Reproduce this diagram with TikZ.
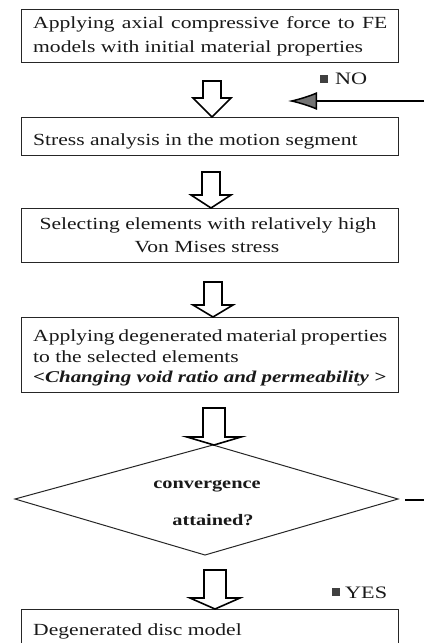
\documentclass[tikz,border=0pt]{standalone}
\usepackage{fontspec}
\setmainfont{Liberation Serif}[FakeStretch=1.27]
\usetikzlibrary{arrows.meta}
\newcommand{\hollowarrow}[6]{%
  \draw[blockarr] ({#1-#5},#2) -- ({#1+#5},#2) -- ({#1+#5},#3) -- ({#1+#6},#3)
    -- (#1,#4) -- ({#1-#6},#3) -- ({#1-#5},#3) -- cycle;}
\tikzset{
  stepbox/.style={draw=black!85, line width=1pt, rectangle, inner sep=0pt,
    minimum width=377pt, anchor=north west},
  line/.style={anchor=base west, inner sep=0pt, font=\fontsize{17}{20}\selectfont, text=black!90},
  cline/.style={anchor=base, inner sep=0pt, font=\fontsize{17}{20}\selectfont, text=black!90},
  blockarr/.style={draw=black, line width=1.6pt, fill=white, line join=miter},
  lab/.style={anchor=base west, inner sep=0pt, font=\fontsize{17.5}{20}\selectfont, text=black!90},
  sq/.style={fill=black!75, draw=none, minimum size=8pt, inner sep=0pt},
  dtext/.style={anchor=base, inner sep=0pt, font=\fontsize{16}{18}\bfseries\selectfont, text=black!90},
}
\begin{document}
\begin{tikzpicture}[x=1pt,y=-1pt]
\useasboundingbox (0,0) rectangle (424,643);
\clip (0,0) rectangle (424,643);
% boxes
\node[stepbox, minimum height=53pt] (b1) at (21,9) {};
\node[stepbox, minimum height=38pt] (b2) at (21,117) {};
\node[stepbox, minimum height=54pt] (b3) at (21,208) {};
\node[stepbox, minimum height=75pt] (b4) at (21,317) {};
\node[stepbox, minimum height=60pt] (b5) at (21,609) {};
% texts
\node[line] (t11) at (33,28) {\makebox[354pt][s]{Applying axial compressive force to FE}};
\node[line] (t12) at (33,52) {models with initial material properties};
\node[line] (t2) at (33,145) {Stress analysis in the motion segment};
\node[cline] (t31) at (208,229) {Selecting elements with relatively high};
\node[cline] (t32) at (207,252) {Von Mises stress};
\node[line] (t41) at (33,341) {\makebox[354pt][s]{Applying degenerated material properties}};
\node[line] (t42) at (33,362) {to the selected elements};
\node[line, font=\fontsize{16.5}{20}\selectfont] (t43) at (33,382) {\bfseries\itshape <Changing void ratio and permeability >};
\node[line] (t5) at (33,635) {Degenerated disc model};
% diamond
\coordinate (dT) at (213,445);
\coordinate (dR) at (398,499);
\coordinate (dB) at (205,555);
\coordinate (dL) at (15,499);
\draw[draw=black!85, line width=1pt, line join=miter] (dT) -- (dR) -- (dB) -- (dL) -- cycle;
\node[dtext] (c1) at (207,488) {convergence};
\node[dtext] (c2) at (213,525) {attained?};
% hollow arrows
\hollowarrow{212}{81}{98}{117}{9}{19}
\hollowarrow{211}{172}{195}{208}{9}{20}
\hollowarrow{213}{282}{305}{317}{9}{20}
\hollowarrow{214}{408}{437}{445}{11}{27}
\hollowarrow{215}{570}{598}{609}{11}{25}
% feedback stubs
\coordinate (fbR) at (424,101);
\coordinate (fbL) at (288,101);
\draw[line width=1.5pt, -{Latex[length=29pt,width=18pt,fill=black!55]}] (fbR) -- (fbL);
\coordinate (dout) at (405,500);
\coordinate (dedge) at (424,500);
\draw[line width=1.5pt] (dout) -- (dedge);
% labels
\node[sq] (sqno) at (324,79) {};
\node[lab] (no) at (335,84) {NO};
\node[sq] (sqyes) at (336,591.5) {};
\node[lab] (yes) at (345,598) {YES};
\end{tikzpicture}
\end{document}
